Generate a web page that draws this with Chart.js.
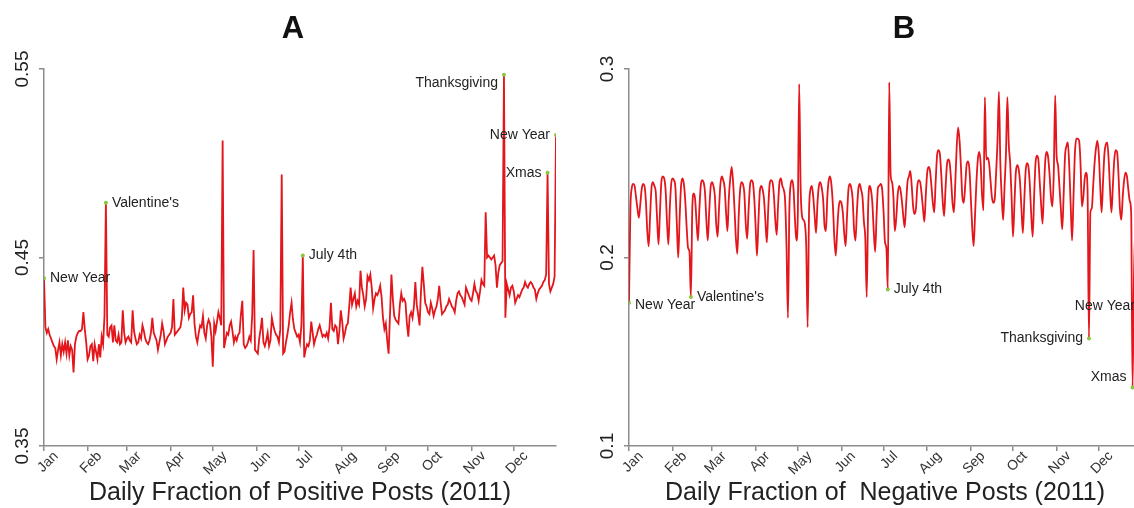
<!DOCTYPE html>
<html>
<head>
<meta charset="utf-8">
<script src="https://cdn.jsdelivr.net/npm/chart.js@4.4.1/dist/chart.umd.min.js"></script>
<style>
html,body{margin:0;padding:0;background:#fff;width:1134px;height:508px;overflow:hidden;}
#pa{position:absolute;left:0;top:0;}
#pb{position:absolute;left:560px;top:0;}
</style>
</head>
<body>
<div id="pa"><canvas id="chartA" width="567" height="508"></canvas></div>
<div id="pb"><canvas id="chartB" width="600" height="508"></canvas></div>
<script>
// months of 2011, day index of the 1st of each month
var monthStarts=[0,31,59,90,120,151,181,212,243,273,304,334];
var monthNames=["Jan","Feb","Mar","Apr","May","Jun","Jul","Aug","Sep","Oct","Nov","Dec"];

// daily fraction of positive posts, one week (Sat..Fri) per line
var posA=[
.439,.413,.410,.412,.409,.407,.405,
.403,.402,.396,.401,.405,.398,.404,
.400,.405,.399,.406,.398,.403,.401,
.389,.404,.408,.410,.411,.411,.412,
.421,.412,.405,.396,.398,.403,.404,
.395,.404,.400,.396,.404,.397,.408,
.404,.419,.479,.409,.408,.413,.414,
.405,.414,.406,.405,.409,.404,.405,
.422,.410,.405,.407,.408,.406,.405,
.422,.411,.407,.404,.405,.409,.407,
.414,.411,.407,.405,.404,.406,.410,
.418,.410,.408,.406,.401,.405,.409,
.415,.411,.404,.406,.408,.409,.410,
.413,.428,.409,.410,.411,.412,.413,
.418,.434,.422,.426,.425,.418,.420,
.421,.430,.415,.408,.405,.410,.414,
.413,.419,.410,.407,.414,.417,.415,
.408,.392,.415,.411,.416,.421,.418,
.414,.512,.402,.406,.410,.409,.414,
.416,.411,.405,.408,.406,.409,.410,
.420,.427,.404,.402,.403,.405,.408,
.406,.419,.454,.401,.400,.399,.407,
.412,.418,.405,.403,.406,.410,.403,
.406,.418,.414,.411,.409,.408,.405,
.412,.494,.399,.400,.405,.409,.414,
.421,.426,.417,.412,.410,.408,.409,
.405,.414,.451,.397,.401,.404,.403,
.406,.416,.410,.404,.407,.409,.412,
.414,.411,.408,.409,.408,.410,.407,
.413,.426,.412,.411,.414,.413,.404,
.411,.422,.416,.407,.410,.414,.415,
.424,.434,.425,.428,.431,.424,.427,
.425,.443,.434,.430,.424,.428,.440,
.438,.441,.434,.423,.428,.431,.430,
.432,.435,.429,.418,.412,.415,.406,
.399,.420,.441,.428,.419,.417,.416,
.415,.425,.431,.427,.428,.426,.415,
.408,.419,.421,.418,.424,.437,.425,
.420,.414,.432,.445,.436,.426,.424,
.421,.420,.426,.423,.419,.422,.424,
.428,.435,.426,.420,.421,.422,.424,
.425,.428,.426,.424,.423,.421,.427,
.431,.432,.430,.429,.427,.425,.434,
.432,.430,.428,.427,.431,.436,.432,
.431,.427,.432,.438,.436,.435,.474,
.450,.451,.450,.449,.450,.451,.446,
.434,.442,.446,.447,.448,.547,.418,
.436,.433,.430,.434,.435,.432,.426,
.428,.430,.429,.431,.433,.434,.437,
.435,.434,.436,.437,.436,.434,.433,
.428,.431,.433,.434,.435,.437,.438,
.441,.495,.436,.432,.434,.436,.440,
.515];

// daily fraction of negative posts
var negB=[
.176,.226,.237,.239,.238,.232,.226,
.221,.228,.236,.239,.238,.230,.214,
.206,.222,.237,.240,.238,.235,.220,
.207,.224,.240,.243,.242,.236,.219,
.207,.226,.239,.242,.241,.237,.218,
.200,.221,.238,.242,.239,.230,.216,
.205,.203,.179,.226,.234,.231,.219,
.209,.225,.238,.241,.240,.235,.220,
.209,.224,.237,.240,.238,.233,.218,
.211,.226,.239,.243,.241,.237,.224,
.214,.232,.242,.248,.240,.226,.210,
.202,.222,.236,.240,.239,.234,.218,
.210,.225,.238,.241,.240,.232,.217,
.201,.219,.235,.238,.236,.231,.219,
.208,.226,.239,.241,.240,.233,.220,
.212,.228,.240,.242,.238,.236,.230,
.205,.168,.225,.239,.241,.236,.220,
.209,.222,.292,.238,.222,.220,.218,
.206,.163,.224,.236,.238,.232,.222,
.213,.229,.238,.240,.237,.231,.217,
.214,.232,.241,.243,.238,.227,.210,
.201,.214,.226,.230,.229,.224,.213,
.206,.222,.236,.239,.237,.231,.215,
.209,.224,.236,.239,.236,.232,.219,
.210,.179,.226,.238,.236,.229,.214,
.203,.222,.237,.238,.239,.236,.224,
.208,.205,.183,.293,.244,.240,.232,
.214,.221,.233,.238,.236,.230,.222,
.216,.228,.240,.243,.246,.238,.227,
.223,.226,.238,.241,.240,.234,.226,
.219,.233,.245,.248,.246,.238,.229,
.224,.240,.254,.257,.255,.244,.230,
.222,.236,.249,.252,.250,.241,.229,
.224,.240,.259,.269,.262,.248,.232,
.229,.238,.249,.251,.247,.232,.216,
.206,.222,.240,.252,.256,.250,.233,
.225,.285,.252,.253,.250,.241,.232,
.229,.231,.245,.262,.288,.250,.232,
.220,.238,.255,.285,.260,.250,.232,
.211,.228,.245,.249,.247,.240,.226,
.213,.230,.246,.250,.248,.238,.222,
.211,.232,.250,.254,.252,.240,.228,
.218,.236,.252,.256,.253,.244,.232,
.227,.245,.286,.254,.249,.238,.226,
.215,.233,.254,.259,.261,.248,.228,
.209,.232,.255,.263,.263,.262,.250,
.227,.232,.242,.245,.236,.157,.224,
.226,.238,.250,.258,.262,.255,.238,
.224,.240,.255,.260,.261,.252,.236,
.224,.238,.252,.257,.256,.244,.226,
.220,.232,.241,.245,.243,.236,.230,
.224,.131,.190,.215,.225,.222,.205,
.175];

var yTicksA=[0.35,0.45,0.55], yLabelsA=["0.35","0.45","0.55"];
var yTicksB=[0.1,0.2,0.3], yLabelsB=["0.1","0.2","0.3"];

var holDaysA=[0,44,184,327,364,358];
var holNamesA=["New Year","Valentine's","July 4th","Thanksgiving","New Year","Xmas"];
var holSideA=["r","r","r","l","l","l"];
var holDaysB=[0,44,184,327,358,364];
var holNamesB=["New Year","Valentine's","July 4th","Thanksgiving","Xmas","New Year"];
var holSideB=["r","r","r","l","l","l"];

var FONT='"Liberation Sans", Arial, Helvetica, sans-serif';
Chart.defaults.font.family=FONT;

// text next to the marked holidays
var holidayText={
	id:'holidayText',
	afterDatasetsDraw:function(chart,args,opts){
		var ctx=chart.ctx,xs=chart.scales.x,ys=chart.scales.y;
		var pts=chart.data.datasets[0].data;
		ctx.save();
		ctx.font='14px '+FONT;
		ctx.fillStyle='#222';
		ctx.textBaseline='middle';
		for(var i=0;i<opts.days.length;i++)
		{
			var d=opts.days[i];
			var px=xs.getPixelForValue(d),py=ys.getPixelForValue(pts[d].y);
			var right=opts.side[i]=="r";
			ctx.textAlign=right?'left':'right';
			ctx.fillText(opts.names[i],px+(right?6:-6),py+(opts.dy[i]||0));
		}
		ctx.restore();
	}
};

// big panel letter on top
var panelLetter={
	id:'panelLetter',
	afterDraw:function(chart,args,opts){
		var ctx=chart.ctx;
		ctx.save();
		ctx.font='bold 31px '+FONT;
		ctx.fillStyle='#111';
		ctx.textAlign='center';
		ctx.textBaseline='middle';
		ctx.fillText(opts.text,opts.x,opts.y);
		ctx.restore();
	}
};

function makeChart(id,vals,smooth,yMin,yMax,yTicks,yLabels,yWidth,yPad,rightPad,xTitle,days,names,side,dy,letter,letterX)
{
	var isHol=[];
	for(var i=0;i<vals.length;i++){isHol.push(days.indexOf(i)>=0);}
	var ctx=document.getElementById(id).getContext('2d');
	return new Chart(ctx,{
		type:'line',
		data:{
			datasets:[{
				data:vals.map(function(v,i){return {x:i,y:v};}),
				borderColor:'#e3161b',
				borderWidth:1.8,
				cubicInterpolationMode:smooth?'monotone':'default',
				tension:0,
				pointRadius:isHol.map(function(h){return h?2:0;}),
				pointBackgroundColor:'#8cc63f',
				pointBorderWidth:0
			}]
		},
		options:{
			responsive:false,
			animation:false,
			layout:{padding:{left:0,right:rightPad,top:69,bottom:0}},
			plugins:{
				legend:{display:false},
				tooltip:{enabled:false},
				holidayText:{days:days,names:names,side:side,dy:dy},
				panelLetter:{text:letter,x:letterX,y:29}
			},
			scales:{
				x:{
					type:'linear',min:0,max:364,
					afterBuildTicks:function(s){s.ticks=monthStarts.map(function(v){return {value:v};});},
					afterFit:function(s){s.height=62;},
					grid:{display:true,drawOnChartArea:false,drawTicks:true,tickLength:5,color:'#8c8c8c',lineWidth:1.5},
					border:{display:true,color:'#8c8c8c',width:1.5},
					ticks:{autoSkip:false,minRotation:45,maxRotation:45,labelOffset:12,padding:-3,color:'#333',font:{size:14},
						callback:function(v,i){return monthNames[i];}},
					title:{display:true,text:xTitle,color:'#222',font:{size:25},padding:{top:0,bottom:0}}
				},
				y:{
					min:yMin,max:yMax,
					afterBuildTicks:function(s){s.ticks=yTicks.map(function(v){return {value:v};});},
					afterFit:function(s){s.width=yWidth;},
					grid:{display:true,drawOnChartArea:false,drawTicks:true,tickLength:5,color:'#8c8c8c',lineWidth:1.5},
					border:{display:true,color:'#8c8c8c',width:1.5},
					ticks:{minRotation:90,maxRotation:90,crossAlign:'center',padding:yPad,color:'#222',font:{size:19},
						callback:function(v,i){return yLabels[i];}}
				}
			}
		},
		plugins:[holidayText,panelLetter]
	});
}

makeChart('chartA',posA,false,0.35,0.55,yTicksA,yLabelsA,44,-2,11,
	'Daily Fraction of Positive Posts (2011)',holDaysA,holNamesA,holSideA,[0,0,0,8,0,0],'A',293);
makeChart('chartB',negB,true,0.1,0.3,yTicksB,yLabelsB,69,3,19,
	'Daily Fraction of  Negative Posts (2011)',holDaysB,holNamesB,holSideB,[2,0,0,0,-10,2],'B',344);
</script>
</body>
</html>
